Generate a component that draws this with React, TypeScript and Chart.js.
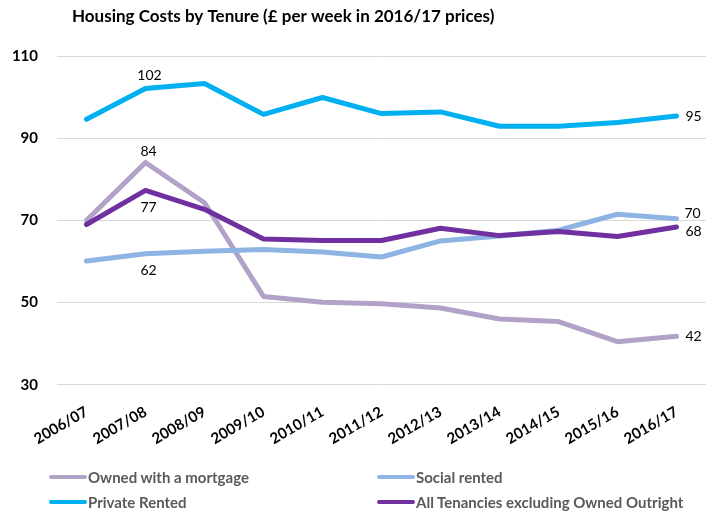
import React, { useEffect, useRef } from "react";
import { Chart, registerables } from "chart.js";

Chart.register(...registerables);

const TITLE = "Housing Costs by Tenure (£ per week in 2016/17 prices)";

const categories = [
  "2006/07", "2007/08", "2008/09", "2009/10", "2010/11", "2011/12",
  "2012/13", "2013/14", "2014/15", "2015/16", "2016/17",
];

const ownedWithMortgage = [70.0, 84.1, 74.3, 51.5, 50.1, 49.7, 48.7, 46.0, 45.4, 40.5, 41.8];
const socialRented = [60.1, 61.9, 62.5, 62.9, 62.3, 61.1, 65.0, 66.2, 67.6, 71.5, 70.4];
const privateRented = [94.6, 102.1, 103.3, 95.8, 99.9, 96.0, 96.4, 92.9, 92.9, 93.8, 95.4];
const allTenancies = [69.0, 77.3, 72.7, 65.5, 65.1, 65.1, 68.1, 66.3, 67.3, 66.1, 68.4];

const yTicks = [30, 50, 70, 90, 110];

const seriesNames = [
  "Owned with a mortgage",
  "Social rented",
  "Private Rented",
  "All Tenancies excluding Owned Outright",
];
const seriesValues = [ownedWithMortgage, socialRented, privateRented, allTenancies];
const seriesColors = ["#b3a2c7", "#8db4e2", "#00b0f0", "#7030a0"];
const seriesOrder = [4, 3, 2, 1];

// labelled points: [seriesIndex, pointIndex, placement, dx, dy]
const pointLabels: [number, number, string, number, number][] = [
  [2, 1, "above", 4, -13],
  [0, 1, "above", 3, -11],
  [3, 1, "below", 3, 17],
  [1, 1, "below", 3, 17],
  [2, 10, "right", 9, 0],
  [1, 10, "right", 8, -5],
  [3, 10, "right", 9, 4],
  [0, 10, "right", 9, 0],
];

const FONT = "Lato, 'Open Sans', sans-serif";

export default function App() {
  const ref = useRef<HTMLCanvasElement | null>(null);

  useEffect(() => {
    if (!ref.current) return;

    const titlePlugin = {
      id: "fixedTitle",
      afterDraw(chart: any) {
        const ctx = chart.ctx;
        ctx.save();
        ctx.font = `bold 17px ${FONT}`;
        ctx.fillStyle = "#000";
        ctx.textAlign = "left";
        ctx.textBaseline = "middle";
        ctx.fillText(TITLE, 72, 17);
        ctx.restore();
      },
    };

    const labelPlugin = {
      id: "pointLabels",
      afterDatasetsDraw(chart: any) {
        const ctx = chart.ctx;
        ctx.save();
        ctx.font = `14px ${FONT}`;
        ctx.fillStyle = "#000";
        ctx.textBaseline = "middle";
        for (const [s, i, place, dx, dy] of pointLabels) {
          const el = chart.getDatasetMeta(s).data[i];
          if (!el) continue;
          const text = String(Math.round(seriesValues[s][i]));
          ctx.textAlign = place === "right" ? "left" : "center";
          ctx.fillText(text, el.x + dx, el.y + dy);
        }
        ctx.restore();
      },
    };

    const chart = new Chart(ref.current, {
      type: "line",
      data: {
        labels: categories,
        datasets: seriesNames.map((name, k) => ({
          label: name,
          data: seriesValues[k],
          borderColor: seriesColors[k],
          backgroundColor: seriesColors[k],
          borderWidth: 5,
          pointRadius: 0,
          tension: 0,
          borderCapStyle: "round" as const,
          borderJoinStyle: "round" as const,
          order: seriesOrder[k],
        })),
      },
      options: {
        animation: false,
        responsive: false,
        layout: { padding: { left: 13, right: 0, top: 56, bottom: 54 } },
        plugins: {
          legend: { display: false },
          title: { display: false },
          tooltip: { enabled: false },
        },
        scales: {
          x: {
            offset: true,
            grid: { display: false },
            border: { display: false },
            afterFit(scale: any) {
              scale.paddingLeft = 0;
              scale.paddingRight = 0;
            },
            ticks: {
              minRotation: 30,
              maxRotation: 30,
              color: "#000",
              padding: 10,
              font: { family: FONT, size: 15, weight: "bold" },
            },
          },
          y: {
            min: 30,
            max: 110,
            afterBuildTicks(axis: any) {
              axis.ticks = yTicks.map((v) => ({ value: v }));
            },
            afterFit(scale: any) {
              scale.width = 44;
            },
            grid: { color: "#d9d9d9", lineWidth: 1, drawTicks: false },
            border: { display: false },
            ticks: {
              color: "#000",
              padding: 19,
              font: { family: FONT, size: 15, weight: "bold" },
            },
          },
        },
      },
      plugins: [titlePlugin, labelPlugin],
    });
    return () => chart.destroy();
  }, []);

  const legendPos = [
    { left: 49, top: 477 },
    { left: 377, top: 477 },
    { left: 49, top: 502 },
    { left: 377, top: 502 },
  ];

  return (
    <div style={{ position: "fixed", left: 0, top: 0, width: 706, height: 512, background: "#fff" }}>
      <canvas ref={ref} width={706} height={512} style={{ width: 706, height: 512, display: "block" }} />
      {seriesNames.map((name, k) => (
        <div
          key={name}
          style={{
            position: "absolute",
            left: legendPos[k].left,
            top: legendPos[k].top - 10,
            height: 20,
            display: "flex",
            alignItems: "center",
            whiteSpace: "nowrap",
            fontFamily: FONT,
            fontWeight: "bold",
            fontSize: 15,
            color: "#595959",
          }}
        >
          <span style={{ display: "inline-block", width: 38, height: 4, borderRadius: 2, background: seriesColors[k], marginRight: 1 }} />
          <span>{name}</span>
        </div>
      ))}
    </div>
  );
}
